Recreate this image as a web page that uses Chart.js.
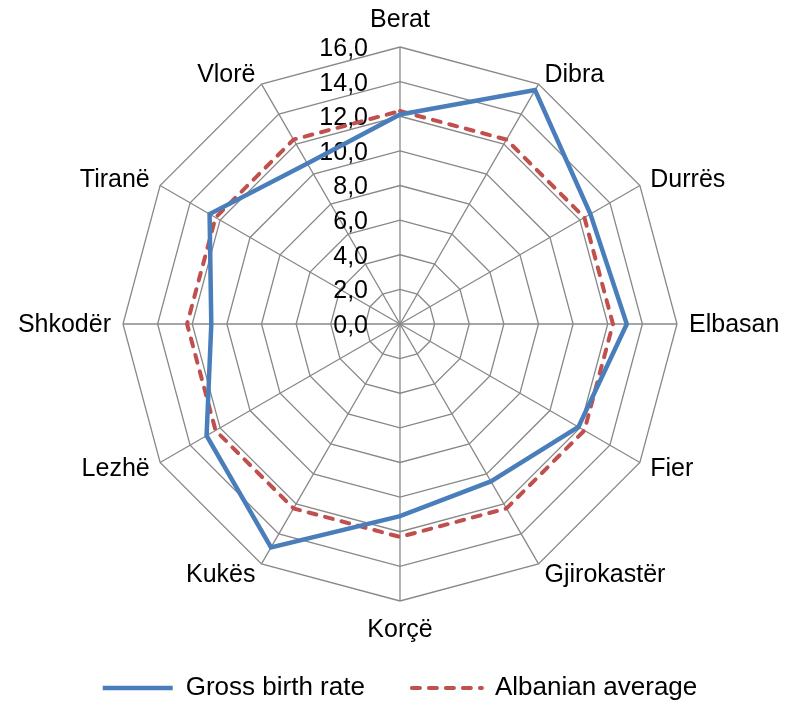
<!DOCTYPE html>
<html>
<head>
<meta charset="utf-8">
<script src="https://cdn.jsdelivr.net/npm/chart.js@4.4.1/dist/chart.umd.min.js"></script>
<style>
  html, body { margin: 0; padding: 0; background: #fff; }
  .chart-box { width: 788px; height: 706px; }
</style>
</head>
<body>
<div class="chart-box"><canvas id="chart-birth-rate"></canvas></div>
<script>
const districts = ['Berat', 'Dibra', 'Durrës', 'Elbasan', 'Fier', 'Gjirokastër', 'Korçë', 'Kukës', 'Lezhë', 'Shkodër', 'Tiranë', 'Vlorë'];
const grossBirthRate = [12.1, 15.6, 12.7, 13.1, 11.9, 10.5, 11.1, 14.9, 12.9, 10.9, 12.7, 10.7];
const albanianAverage = [12.3, 12.3, 12.3, 12.3, 12.3, 12.3, 12.3, 12.3, 12.3, 12.3, 12.3, 12.3];
const tickValues = [0, 2, 4, 6, 8, 10, 12, 14, 16];

const FONT = "'Liberation Sans', Arial, sans-serif";
Chart.defaults.font.family = FONT;
Chart.defaults.color = '#000';

// tick labels sit left of the vertical axis, like the original
const tickLabelPlugin = {
  id: 'tickLabels',
  beforeDatasetsDraw(chart) {
    const scale = chart.scales.r;
    const ctx = chart.ctx;
    ctx.save();
    ctx.font = `25px ${FONT}`;
    ctx.fillStyle = '#000';
    ctx.textAlign = 'right';
    ctx.textBaseline = 'middle';
    tickValues.forEach((value) => {
      const dist = scale.getDistanceFromCenterForValue(value);
      ctx.fillText(value.toFixed(1).replace('.', ','), scale.xCenter - 32, scale.yCenter - dist + 2);
    });
    ctx.restore();
  },
};

// district names centred on their spoke end (Excel style) instead of Chart.js placement
const districtLabelPlugin = {
  id: 'districtLabels',
  afterDatasetsDraw(chart) {
    const scale = chart.scales.r;
    const ctx = chart.ctx;
    const count = districts.length;
    ctx.save();
    ctx.font = `25px ${FONT}`;
    ctx.fillStyle = '#000';
    ctx.textBaseline = 'middle';
    districts.forEach((name, i) => {
      const pos = scale.getPointPosition(i, scale.drawingArea + 12);
      let y = pos.y;
      if (i === 0) {
        ctx.textAlign = 'center';
        y -= 15;
      } else if (i === count / 2) {
        ctx.textAlign = 'center';
        y += 17;
      } else {
        ctx.textAlign = i < count / 2 ? 'left' : 'right';
        y += 1;
      }
      ctx.fillText(name, pos.x, y);
    });
    ctx.restore();
  },
};

const ctx = document.getElementById('chart-birth-rate').getContext('2d');
new Chart(ctx, {
  type: 'radar',
  data: {
    labels: districts,
    datasets: [
      {
        label: 'Gross birth rate',
        data: grossBirthRate,
        borderColor: '#4a7ebb',
        backgroundColor: '#4a7ebb',
        borderWidth: 4.5,
        pointRadius: 0,
        fill: false,
      },
      {
        label: 'Albanian average',
        data: albanianAverage,
        borderColor: '#c0504d',
        backgroundColor: '#c0504d',
        borderWidth: 4,
        borderDash: [8, 9],
        borderCapStyle: 'round',
        pointRadius: 0,
        fill: false,
      },
    ],
  },
  options: {
    responsive: true,
    maintainAspectRatio: false,
    animation: false,
    layout: { padding: { top: 20, left: 12, right: 0, bottom: -5 } },
    scales: {
      r: {
        min: 0,
        max: 16,
        ticks: { stepSize: 2, display: false },
        grid: { color: '#888', lineWidth: 1.3 },
        angleLines: { color: '#888', lineWidth: 1.3 },
        // kept for sizing only, the visible names come from districtLabelPlugin
        pointLabels: { font: { size: 20 }, color: 'rgba(0,0,0,0)', padding: 3 },
      },
    },
    plugins: {
      tooltip: { enabled: false },
      legend: {
        position: 'bottom',
        labels: {
          usePointStyle: true,
          pointStyle: 'line',
          pointStyleWidth: 70,
          padding: 47,
          color: '#000',
          font: { size: 26 },
          generateLabels(chart) {
            const items = Chart.defaults.plugins.legend.labels.generateLabels(chart);
            items.forEach((item, i) => {
              const ds = chart.data.datasets[i];
              item.lineDash = ds.borderDash || [];
              item.lineWidth = ds.borderWidth;
              item.lineCap = ds.borderCapStyle || 'butt';
              item.strokeStyle = ds.borderColor;
            });
            return items;
          },
        },
      },
    },
  },
  plugins: [tickLabelPlugin, districtLabelPlugin],
});
</script>
</body>
</html>
